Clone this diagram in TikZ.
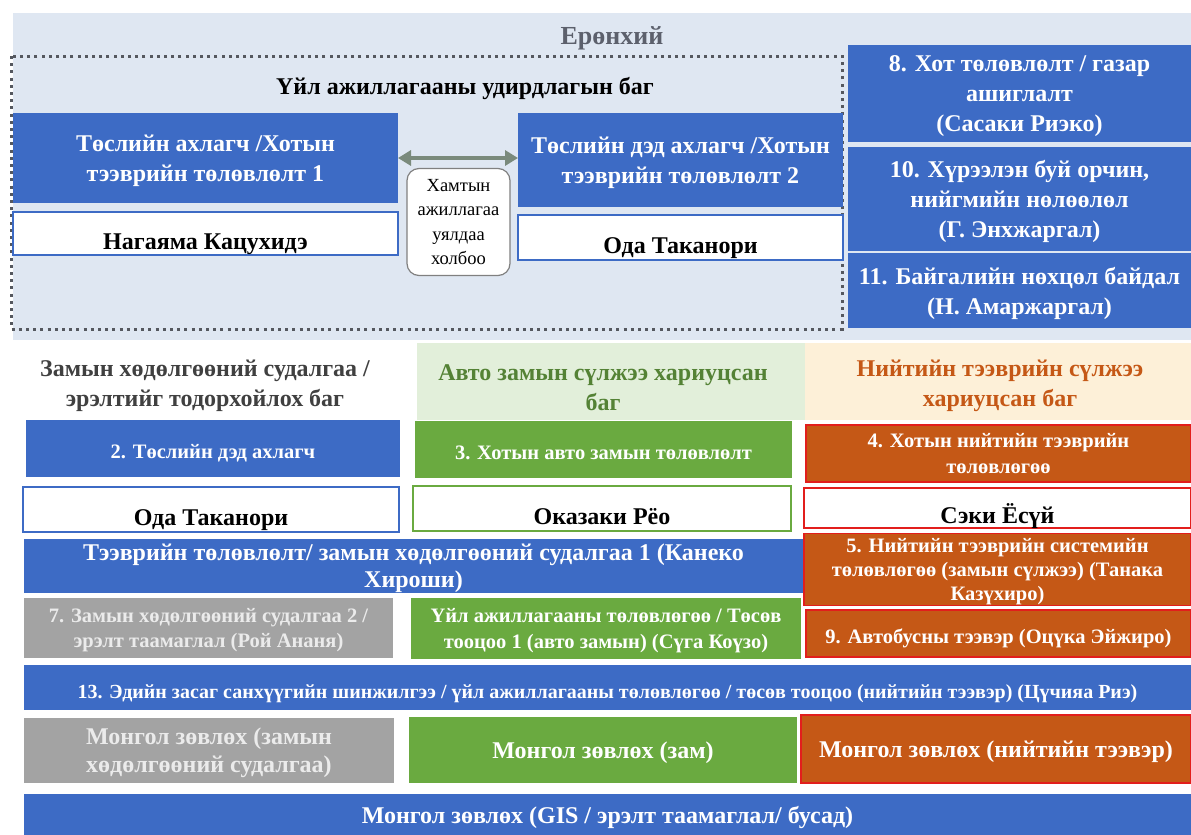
\documentclass[tikz,border=0pt]{standalone}
\usepackage{fontspec}
\setmainfont{Liberation Serif}
\usetikzlibrary{positioning,arrows.meta}

\definecolor{jblue}{RGB}{61,107,197}
\definecolor{jgreen}{RGB}{106,170,64}
\definecolor{jorange}{RGB}{197,88,22}
\definecolor{jred}{RGB}{226,30,28}
\definecolor{jgray}{RGB}{163,163,163}
\definecolor{paleblue}{RGB}{223,231,242}
\definecolor{palegreen}{RGB}{226,239,218}
\definecolor{paleorange}{RGB}{253,240,216}
\definecolor{darkgreen}{RGB}{84,130,53}
\definecolor{dotgray}{RGB}{85,88,95}
\definecolor{titlegray}{RGB}{92,96,108}
\definecolor{arrowgray}{RGB}{122,138,124}

\begin{document}
\begin{tikzpicture} [
x=1pt, y=-1pt,
every node/.style={outer sep=0pt, inner sep=2pt, align=center},
wh/.style 2 args={minimum width=#1pt, minimum height=#2pt},
topstrut/.style={execute at begin node={\rule{0pt}{#1}}},
bigfont/.style={font=\bfseries\fontsize{24}{30}\selectfont},
midfont/.style={font=\bfseries\fontsize{20.5}{25.5}\selectfont},
bluenode/.style={rectangle, fill=jblue, text=white, text depth=0pt},
greennode/.style={rectangle, fill=jgreen, text=white, text depth=0pt},
orangenode/.style={rectangle, fill=jorange, draw=jred, line width=1.2pt, text=white, text depth=0pt},
graynode/.style={rectangle, fill=jgray, text=white!92!black, text depth=0pt},
namenode/.style={rectangle, fill=white, draw=#1, line width=1.5pt, text=black, bigfont,
  inner ysep=0pt, text depth=0pt, topstrut=1.3em},
headnode/.style={rectangle, bigfont},
coopnode/.style={rectangle, rounded corners=12pt, fill=white, draw=gray, line width=1.2pt,
  font=\fontsize{18.5}{24.5}\selectfont, text depth=0pt},
dotframe/.style={draw=dotgray, line width=3pt, dash pattern=on 3pt off 4.2pt},
]
\useasboundingbox (0,0) rectangle (1191,835);

%Background
\fill[paleblue] (13,13) rectangle (1191,340);
\draw[dotframe] (11,56) rectangle (842,329);
\fill[palegreen] (417,343) rectangle (805,420);
\fill[paleorange] (805,343) rectangle (1191,420);

%Management team
\node[headnode, text=titlegray, font=\bfseries\fontsize{26}{30}\selectfont] (general) at (612,38) {Ерөнхий};
\node[headnode]                  (mgmt)                         at (465,88)    {Үйл ажиллагааны удирдлагын баг};
\node[bluenode, bigfont, wh={385}{90}]   (lead)                 at (205.5,158) {Төслийн ахлагч /Хотын\\тээврийн төлөвлөлт 1};
\node[namenode=jblue, wh={385}{43}]      (leadname)   [below=9pt of lead]      {Нагаяма Кацухидэ};
\node[bluenode, bigfont, wh={325}{94}]   (deputy)               at (680.5,160) {Төслийн дэд ахлагч /Хотын\\тээврийн төлөвлөлт 2};
\node[namenode=jblue, wh={325}{45}]      (deputyname) [below=8pt of deputy]    {Ода Таканори};
\node[coopnode, wh={103}{107}]           (coop)                 at (458.5,222) {Хамтын\\ажиллагаа\\уялдаа\\холбоо};

%Right column
\node[bluenode, bigfont, wh={343}{97}]   (urban)                at (1019.5,93.5) {8. Хот төлөвлөлт / газар\\ашиглалт\\(Сасаки Риэко)};
\node[bluenode, bigfont, wh={343}{104}]  (social)     [below=5pt of urban]     {10. Хүрээлэн буй орчин,\\нийгмийн нөлөөлөл\\(Г. Энхжаргал)};
\node[bluenode, bigfont, wh={343}{75}]   (nature)     [below=2pt of social]    {11. Байгалийн нөхцөл байдал\\(Н. Амаржаргал)};

%Team heads
\node[headnode, text=black!75]           (traffichead)          at (205,386)   {Замын хөдөлгөөний судалгаа /\\эрэлтийг тодорхойлох баг};
\node[headnode, text=darkgreen]          (roadhead)             at (603,388)   {Авто замын сүлжээ хариуцсан\\баг};
\node[headnode, text=jorange]            (transithead)          at (1000,386)  {Нийтийн тээврийн сүлжээ\\хариуцсан баг};

%Team members
\node[bluenode, midfont, topstrut=0.95em, wh={374}{57}]   (subleader)   at (213,448.5)   {2. Төслийн дэд ахлагч};
\node[greennode, midfont, topstrut=0.95em, wh={377}{57}]  (roadplan)    at (603.5,449.5) {3. Хотын авто замын төлөвлөлт};
\node[orangenode, midfont, wh={385}{57}]    (transitplan)       at (998.5,453.5) {4. Хотын нийтийн тээврийн\\төлөвлөгөө};
\node[namenode=jblue, wh={376}{45}]         (odaname)           at (211,509.5)   {Ода Таканори};
\node[namenode=jgreen, wh={378}{45}]        (okazakiname)       at (602,508.5)   {Оказаки Рёо};
\node[namenode=jred, wh={387}{40}]          (sekiname)          at (997.5,508)   {Сэки Ёсүй};
\node[bluenode, wh={779}{54}, font=\bfseries\fontsize{24}{27}\selectfont] (kaneko) at (413.5,566)
  {Тээврийн төлөвлөлт/ замын хөдөлгөөний судалгаа 1 (Канеко\\Хироши)};
\node[orangenode, wh={387}{72}, font=\bfseries\fontsize{20.5}{24}\selectfont] (transitsys) at (997.5,569.5)
  {5. Нийтийн тээврийн системийн\\төлөвлөгөө (замын сүлжээ) (Танака\\Казүхиро)};
\node[graynode, midfont, wh={369}{60}]      (demand)            at (208.5,628)   {7. Замын хөдөлгөөний судалгаа 2 /\\эрэлт таамаглал (Рой Ананя)};
\node[greennode, midfont, wh={390}{61}]     (budgetroad)        at (606,628.5)   {Үйл ажиллагааны төлөвлөгөө / Төсөв\\тооцоо 1 (авто замын) (Сүга Коүзо)};
\node[orangenode, midfont, topstrut=0.95em, wh={385}{47}] (bus)  at (998.5,633.5) {9. Автобусны тээвэр (Оцүка Эйжиро)};
\node[bluenode, wh={1167}{45}, font=\bfseries\fontsize{20}{24}\selectfont, topstrut=1.05em] (economy) at (607.5,687.5)
  {13. Эдийн засаг санхүүгийн шинжилгээ / үйл ажиллагааны төлөвлөгөө / төсөв тооцоо (нийтийн тээвэр) (Цүчияа Риэ)};
\node[graynode, wh={370}{65}, font=\bfseries\fontsize{24}{28}\selectfont] (localtraffic) at (209,750)
  {Монгол зөвлөх (замын\\хөдөлгөөний судалгаа)};
\node[greennode, bigfont, wh={388}{66}]     (localroad)         at (603,750)     {Монгол зөвлөх (зам)};
\node[orangenode, bigfont, wh={390}{68}]    (localtransit)      at (996,749)     {Монгол зөвлөх (нийтийн тээвэр)};
\node[bluenode, bigfont, wh={1167}{41}]     (localgis)          at (607.5,814.5) {Монгол зөвлөх (GIS / эрэлт таамаглал/ бусад)};

%Lines
\draw[{Triangle[length=13pt,width=15pt]}-{Triangle[length=13pt,width=15pt]}, line width=4.5pt, draw=arrowgray]
  (lead.east) -- (deputy.west |- lead.east);

\end{tikzpicture}
\end{document}
